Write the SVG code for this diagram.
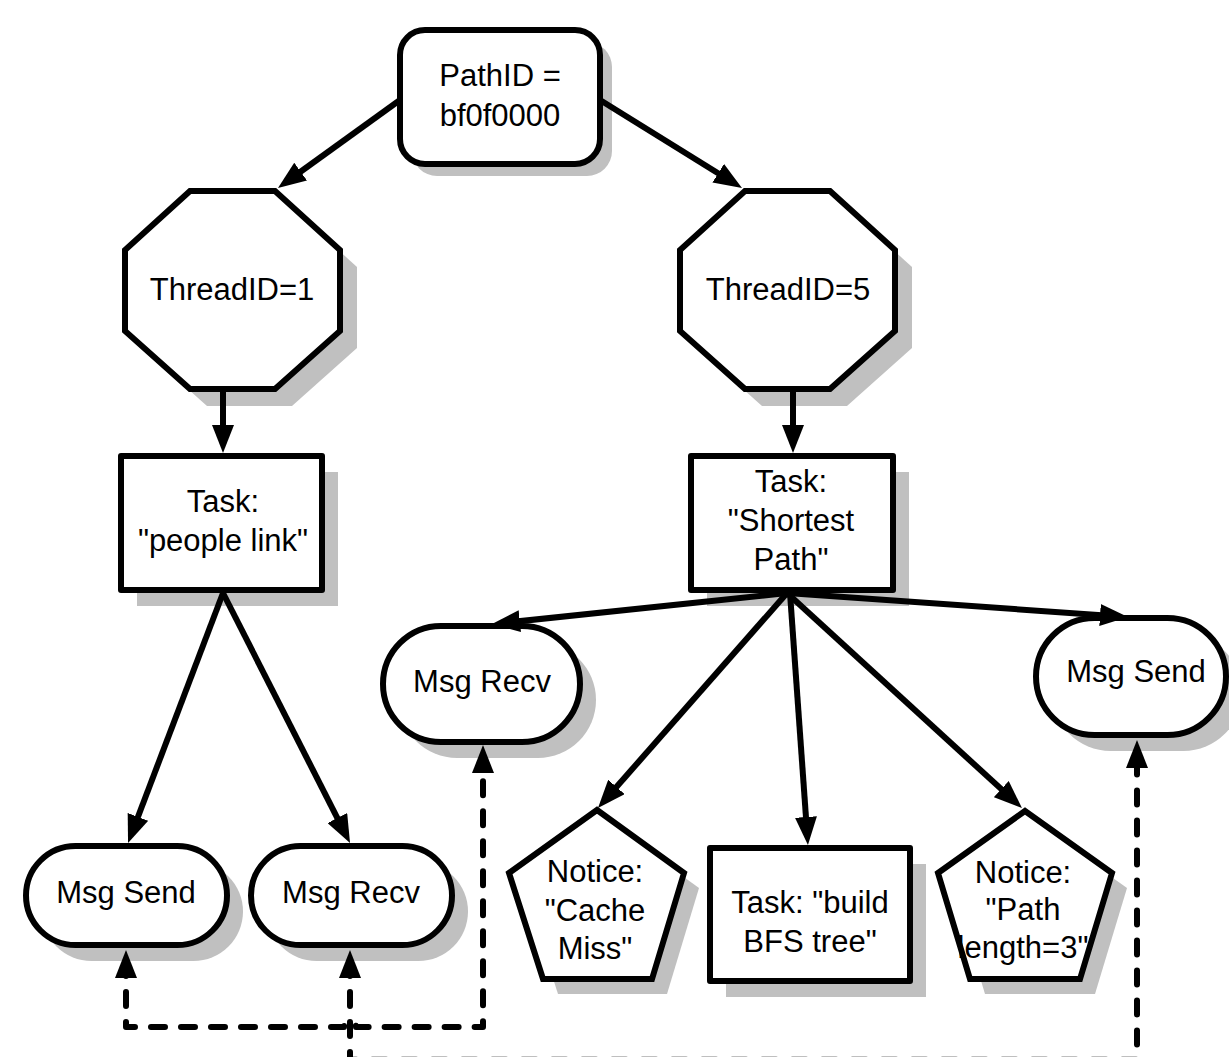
<svg xmlns="http://www.w3.org/2000/svg" width="1229" height="1057" viewBox="0 0 1229 1057">
<style>
.node{fill:#fff;stroke:#000;stroke-width:6;stroke-linejoin:round}
.poly{fill:#fff;stroke:#000;stroke-width:6;stroke-linejoin:miter}
.shadow{fill:#c0c0c0;stroke:none}
.lbl{font-family:"Liberation Sans",Arial,sans-serif;font-size:31px;fill:#000;text-anchor:middle}
.edge{fill:none;stroke:#000;stroke-width:6;stroke-linecap:butt}
.dash{fill:none;stroke:#000;stroke-width:6;stroke-linecap:round;stroke-linejoin:round;stroke-dasharray:14 16}
</style>
<defs>
<marker id="arr" markerUnits="userSpaceOnUse" markerWidth="28" markerHeight="22" viewBox="0 0 28 22" refX="16" refY="11" orient="auto-start-reverse">
<path d="M0,0 L28,11 L0,22 z" fill="#000"/>
</marker>
</defs>
<rect width="1229" height="1057" fill="#fff"/>

<g id="n-path">
<rect class="shadow" x="412" y="42" width="200" height="134" rx="25"/>
<rect class="node" x="400" y="30" width="200" height="134" rx="25"/>
<text class="lbl" x="500" y="86">PathID =</text>
<text class="lbl" x="500" y="126">bf0f0000</text>
</g>

<g id="n-thread1">
<polygon class="shadow" transform="translate(17,17)" points="190,191 275,191 340,250 340,331 275,389 190,389 125,331 125,250"/>
<polygon class="poly" points="190,191 275,191 340,250 340,331 275,389 190,389 125,331 125,250"/>
<text class="lbl" x="232" y="300">ThreadID=1</text>
</g>

<g id="n-thread5">
<polygon class="shadow" transform="translate(17,17)" points="745,191 830,191 895,250 895,331 830,389 745,389 680,331 680,250"/>
<polygon class="poly" points="745,191 830,191 895,250 895,331 830,389 745,389 680,331 680,250"/>
<text class="lbl" x="788" y="300">ThreadID=5</text>
</g>

<g id="n-task-people">
<rect class="shadow" x="137" y="472" width="201" height="134"/>
<rect class="node" x="121" y="456" width="201" height="134"/>
<text class="lbl" x="223" y="512">Task:</text>
<text class="lbl" x="223" y="551">"people link"</text>
</g>

<g id="n-task-shortest">
<rect class="shadow" x="707" y="472" width="202" height="134"/>
<rect class="node" x="691" y="456" width="202" height="134"/>
<text class="lbl" x="791" y="492">Task:</text>
<text class="lbl" x="791" y="531">"Shortest</text>
<text class="lbl" x="791" y="570">Path"</text>
</g>

<g id="n-send-left">
<rect class="shadow" x="42" y="862" width="201" height="99" rx="49.5"/>
<rect class="node" x="26" y="846" width="201" height="99" rx="49.5"/>
<text class="lbl" x="126" y="903">Msg Send</text>
</g>

<g id="n-recv-left">
<rect class="shadow" x="267" y="862" width="201" height="99" rx="49.5"/>
<rect class="node" x="251" y="846" width="201" height="99" rx="49.5"/>
<text class="lbl" x="351" y="903">Msg Recv</text>
</g>

<g id="n-recv-mid">
<rect class="shadow" x="399" y="642" width="197" height="116" rx="58"/>
<rect class="node" x="383" y="626" width="197" height="116" rx="58"/>
<text class="lbl" x="482" y="692">Msg Recv</text>
</g>

<g id="n-send-right">
<rect class="shadow" x="1052" y="634" width="190" height="117" rx="58.5"/>
<rect class="node" x="1036" y="618" width="190" height="117" rx="58.5"/>
<text class="lbl" x="1136" y="682">Msg Send</text>
</g>

<g id="n-notice-cache">
<polygon class="shadow" transform="translate(15,15)" points="597,810 684,873 652,979 543,979 509,873"/>
<polygon class="poly" points="597,810 684,873 652,979 543,979 509,873"/>
<text class="lbl" x="595" y="882">Notice:</text>
<text class="lbl" x="595" y="921">"Cache</text>
<text class="lbl" x="595" y="959">Miss"</text>
</g>

<g id="n-task-bfs">
<rect class="shadow" x="726" y="864" width="200" height="133"/>
<rect class="node" x="710" y="848" width="200" height="133"/>
<text class="lbl" x="810" y="913">Task: "build</text>
<text class="lbl" x="810" y="952">BFS tree"</text>
</g>

<g id="n-notice-path">
<polygon class="shadow" transform="translate(15,15)" points="1025,811 1112,873 1080,979 970,979 938,873"/>
<polygon class="poly" points="1025,811 1112,873 1080,979 970,979 938,873"/>
<text class="lbl" x="1023" y="883">Notice:</text>
<text class="lbl" x="1023" y="920">"Path</text>
<text class="lbl" x="1023" y="958">length=3"</text>
</g>

<g id="connectors">
<line class="edge" x1="400" y1="100" x2="287.7" y2="181" marker-end="url(#arr)"/>
<line class="edge" x1="600" y1="100" x2="731.8" y2="181.7" marker-end="url(#arr)"/>
<line class="edge" x1="223" y1="392" x2="223" y2="441" marker-end="url(#arr)"/>
<line class="edge" x1="793" y1="392" x2="793" y2="441" marker-end="url(#arr)"/>
<line class="edge" x1="223" y1="593" x2="132.3" y2="831.8" marker-end="url(#arr)"/>
<line class="edge" x1="223" y1="593" x2="344.6" y2="832.3" marker-end="url(#arr)"/>
<line class="edge" x1="787" y1="593" x2="503.9" y2="622.8" marker-end="url(#arr)"/>
<line class="edge" x1="787" y1="593" x2="1116" y2="616.2" marker-end="url(#arr)"/>
<line class="edge" x1="787" y1="593" x2="605.9" y2="799" marker-end="url(#arr)"/>
<line class="edge" x1="790" y1="593" x2="807.1" y2="833" marker-end="url(#arr)"/>
<line class="edge" x1="787" y1="593" x2="1013.1" y2="799.9" marker-end="url(#arr)"/>
<path class="dash" d="M126,962 L126,1027 L344,1027 A6,6 0 0 1 356,1027 L483,1027 L483,757" marker-start="url(#arr)" marker-end="url(#arr)"/>
<path class="dash" d="M350,962 L350,1059.7 L1137,1059.7 L1137,752" marker-start="url(#arr)" marker-end="url(#arr)"/>
</g>
</svg>
